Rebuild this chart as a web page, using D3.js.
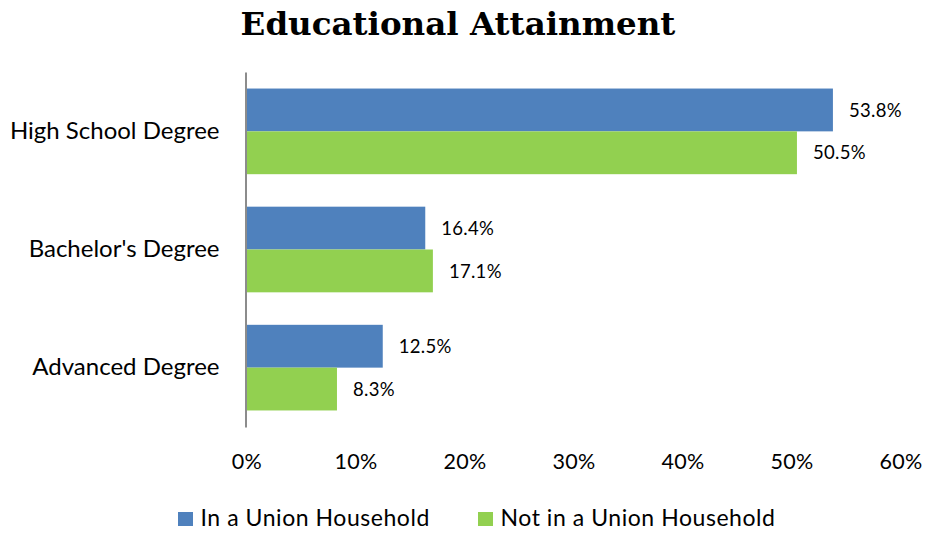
<!DOCTYPE html>
<html>
<head>
<meta charset="utf-8">
<script src="https://cdn.jsdelivr.net/npm/d3@7"></script>
<style>
  html, body { margin: 0; padding: 0; background: #fff; }
  svg { display: block; }
</style>
</head>
<body>
<svg id="chart" width="925" height="533"></svg>
<script>
// Educational attainment by household union membership (percent)
const categories = ["High School Degree", "Bachelor's Degree", "Advanced Degree"];
const seriesNames = ["In a Union Household", "Not in a Union Household"];
const unionValues = [53.8, 16.4, 12.5];
const nonUnionValues = [50.5, 17.1, 8.3];
const tickValues = [0, 10, 20, 30, 40, 50, 60];
const colors = ["#4f81bd", "#92d050"];

const seriesValues = [unionValues, nonUnionValues];
const rows = categories.map((c, i) => ({
  category: c,
  values: seriesValues.map((vals, s) => ({ series: seriesNames[s], value: vals[i], idx: s }))
}));

const svg = d3.select("#chart");
const sansFont = "Lato, 'Open Sans', sans-serif";

const x = d3.scaleLinear().domain([0, 60]).range([246.5, 900.5]);
const y = d3.scaleBand().domain(categories).range([72, 427])
  .paddingInner(0.275).paddingOuter(0.14);
const ySub = d3.scaleBand().domain(seriesNames).range([0, y.bandwidth()]);

// Title
svg.append("text")
  .attr("x", 458).attr("y", 35)
  .attr("text-anchor", "middle")
  .attr("font-family", "'DejaVu Serif', 'Liberation Serif', serif")
  .attr("font-weight", "bold")
  .attr("font-size", 32.5)
  .attr("fill", "#000")
  .text("Educational Attainment");

// Bars
const groups = svg.append("g").selectAll("g")
  .data(rows).join("g")
  .attr("transform", d => `translate(0,${y(d.category)})`);

groups.selectAll("rect")
  .data(d => d.values).join("rect")
  .attr("x", x(0))
  .attr("y", d => ySub(d.series))
  .attr("width", d => x(d.value) - x(0))
  .attr("height", ySub.bandwidth())
  .attr("fill", d => colors[d.idx]);

// Value labels
groups.selectAll("text.val")
  .data(d => d.values).join("text")
  .attr("class", "val")
  .attr("x", d => x(d.value) + 16)
  .attr("y", d => ySub(d.series) + ySub.bandwidth() / 2)
  .attr("dy", "0.36em")
  .attr("font-family", sansFont)
  .attr("font-size", 18.5)
  .attr("letter-spacing", 0.3)
  .attr("fill", "#000")
  .text(d => d.value.toFixed(1) + "%");

// Category axis (vertical line, no ticks)
const yAxis = d3.axisLeft(y).tickSize(0).tickPadding(26);
const yg = svg.append("g")
  .attr("transform", `translate(${x(0) - 1},0)`)
  .call(yAxis);
yg.select(".domain").attr("stroke", "#8c8c8c").attr("stroke-width", 2);
yg.selectAll("text")
  .attr("font-family", sansFont)
  .attr("font-size", 24)
  .attr("fill", "#000");

// Value axis (labels only)
const xAxis = d3.axisBottom(x).tickValues(tickValues)
  .tickFormat(d => d + "%").tickSize(0).tickPadding(0);
const xg = svg.append("g")
  .attr("transform", `translate(0,454)`)
  .call(xAxis);
xg.select(".domain").remove();
xg.selectAll("text")
  .attr("font-family", sansFont)
  .attr("font-size", 21.5)
  .attr("letter-spacing", 0.3)
  .attr("fill", "#000");

// Legend
const legendItems = [
  { name: seriesNames[0], color: colors[0], x: 178 },
  { name: seriesNames[1], color: colors[1], x: 478 }
];
const lg = svg.append("g").selectAll("g").data(legendItems).join("g")
  .attr("transform", d => `translate(${d.x},512)`);
lg.append("rect").attr("width", 15).attr("height", 14).attr("fill", d => d.color);
lg.append("text")
  .attr("x", 22.5).attr("y", 14)
  .attr("font-family", sansFont)
  .attr("font-size", 23)
  .attr("letter-spacing", 0.55)
  .attr("fill", "#000")
  .text(d => d.name);
</script>
</body>
</html>
